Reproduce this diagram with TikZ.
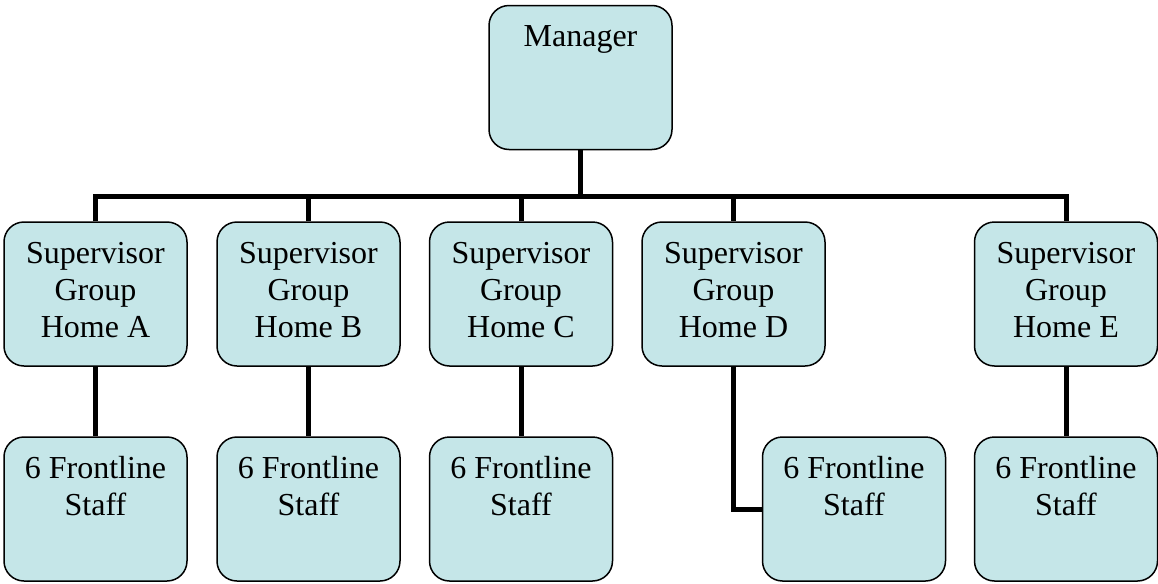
\documentclass[tikz,border=0pt]{standalone}
\usepackage{fontspec}
\setmainfont{Liberation Serif}
\usepackage{tikz}
\definecolor{boxfill}{RGB}{197, 230, 232}
\newcommand{\toptext}[1]{\parbox[c][72pt][t]{90pt}{\centering\vspace*{7.5pt}\strut #1}}

\begin{document}
\begin{tikzpicture}[
  orgbox/.style={rectangle, rounded corners=10pt, fill=boxfill, draw=black, line width=0.75pt,
    inner sep=0pt, minimum width=91.5pt, minimum height=72pt, font=\fontsize{16pt}{18.7pt}\selectfont},
  link/.style={line width=2.5pt, color=black}]
\useasboundingbox (0pt, 0pt) rectangle (579pt, -292pt);
\node (mgr) [orgbox] at (290.25pt, -38.75pt) {\toptext{Manager}};
\coordinate (bus) at (0pt, -98pt);
\node (supA) [orgbox] at (47.75pt, -147pt)  {\toptext{Supervisor\\Group\\Home A}};
\node (supB) [orgbox] at (154.25pt, -147pt) {\toptext{Supervisor\\Group\\Home B}};
\node (supC) [orgbox] at (260.5pt, -147pt)  {\toptext{Supervisor\\Group\\Home C}};
\node (supD) [orgbox] at (366.75pt, -147pt) {\toptext{Supervisor\\Group\\Home D}};
\node (supE) [orgbox] at (533pt, -147pt)    {\toptext{Supervisor\\Group\\Home E}};
\node (frA) [orgbox] at (47.75pt, -254.5pt)  {\toptext{6 Frontline\\Staff}};
\node (frB) [orgbox] at (154.25pt, -254.5pt) {\toptext{6 Frontline\\Staff}};
\node (frC) [orgbox] at (260.5pt, -254.5pt)  {\toptext{6 Frontline\\Staff}};
\node (frD) [orgbox] at (427pt, -254.5pt)    {\toptext{6 Frontline\\Staff}};
\node (frE) [orgbox] at (533pt, -254.5pt)    {\toptext{6 Frontline\\Staff}};
\draw [link] (mgr.south) to (mgr.south |- bus);
\draw [link] (supA.north) |- (supE.north |- bus) -- (supE.north);
\draw [link] (supB.north) to (supB.north |- bus);
\draw [link] (supC.north) to (supC.north |- bus);
\draw [link] (supD.north) to (supD.north |- bus);
\draw [link] (supA.south) to (frA.north);
\draw [link] (supB.south) to (frB.north);
\draw [link] (supC.south) to (frC.north);
\draw [link] (supD.south) |- (frD.west);
\draw [link] (supE.south) to (frE.north);
\end{tikzpicture}
\end{document}
